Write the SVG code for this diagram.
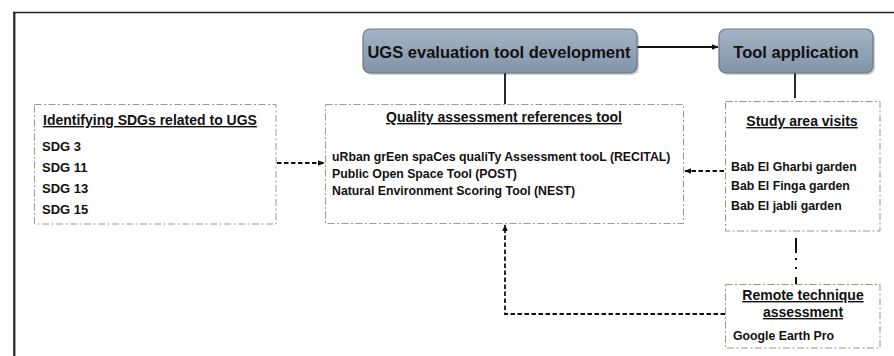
<svg xmlns="http://www.w3.org/2000/svg" width="894" height="356" viewBox="0 0 894 356">
<style>
text{font-family:"Liberation Sans",Arial,sans-serif;font-weight:bold;fill:#111}
.hd{font-size:16.5px;text-anchor:middle}
.tt{font-size:14px;text-decoration:underline}
.c{text-anchor:middle}
.bd{font-size:12.3px}
.sdg{font-size:13px}
.hbox{fill:url(#hg);stroke:#66778a;stroke-width:1.2}
.shadow{fill:#000;opacity:0.18}
.gbox{fill:#fff;stroke:#9a9a9a;stroke-width:1;stroke-dasharray:7 2.5 2 2.5}
.green{fill:#fff;stroke:#86a07e;stroke-width:1;stroke-dasharray:7 2.5 2 2.5}
.solid{fill:none;stroke:#111;stroke-width:1.8}
.dash{fill:none;stroke:#111;stroke-width:1.8;stroke-dasharray:4.5 2.5}
</style>
<defs>
<linearGradient id="hg" x1="0" y1="0" x2="0" y2="1">
<stop offset="0" stop-color="#a6b5c6"/>
<stop offset="0.5" stop-color="#93a4b7"/>
<stop offset="1" stop-color="#8193a7"/>
</linearGradient>
<marker id="ah" viewBox="0 0 10 10" refX="9" refY="5" markerWidth="4" markerHeight="4" orient="auto" markerUnits="strokeWidth">
<path d="M0,1 L10,5 L0,9 z" fill="#111"/>
</marker>
</defs>
<rect width="894" height="356" fill="#fff"/>
<g id="frame">
<line x1="13" y1="12.5" x2="894" y2="12.5" stroke="#222" stroke-width="1.6"/>
<line x1="14.3" y1="12" x2="14.3" y2="356" stroke="#222" stroke-width="2.2"/>
</g>
<g id="connectors">
<line class="solid" x1="637" y1="47" x2="718" y2="47" marker-end="url(#ah)"/>
<line class="solid" x1="505" y1="73" x2="505" y2="104"/>
<line class="solid" x1="795" y1="73" x2="795" y2="98"/>
<line class="dash" x1="277" y1="163" x2="324" y2="163" marker-end="url(#ah)"/>
<line class="dash" x1="724" y1="171" x2="685" y2="171" marker-end="url(#ah)"/>
<polyline class="dash" points="725,314 505,314 505,225" marker-end="url(#ah)"/>
<line x1="796" y1="232" x2="796" y2="284" stroke="#111" stroke-width="2" stroke-dasharray="0 6 15 5 2 7 2 8 10"/>
</g>
<g id="ugs-dev">
<rect class="shadow" x="365" y="31" width="274" height="44" rx="7"/>
<rect class="hbox" x="363" y="29" width="274" height="44" rx="7"/>
<text class="hd" x="499" y="57.5">UGS evaluation tool development</text>
</g>
<g id="tool-application">
<rect class="shadow" x="721" y="31" width="154" height="44" rx="7"/>
<rect class="hbox" x="719" y="29" width="154" height="44" rx="7"/>
<text class="hd" x="796" y="57.5">Tool application</text>
</g>
<g id="sdgs">
<rect class="gbox" x="34.5" y="104.5" width="241.5" height="119.5"/>
<text class="tt" x="43" y="125">Identifying SDGs related to UGS</text>
<text class="sdg" x="42" y="151">SDG 3</text>
<text class="sdg" x="42" y="172">SDG 11</text>
<text class="sdg" x="42" y="193">SDG 13</text>
<text class="sdg" x="42" y="214">SDG 15</text>
</g>
<g id="quality-tool">
<rect class="gbox" x="325.5" y="104.5" width="358" height="119"/>
<text class="tt c" x="504" y="122">Quality assessment references tool</text>
<text class="bd" x="332" y="161">uRban grEen spaCes qualiTy Assessment tooL (RECITAL)</text>
<text class="bd" x="332" y="178">Public Open Space Tool (POST)</text>
<text class="bd" x="332" y="195">Natural Environment Scoring Tool (NEST)</text>
</g>
<g id="study-area">
<rect class="green" x="725.5" y="101.5" width="154.5" height="129.5"/>
<text class="tt c" x="802" y="126">Study area visits</text>
<text class="bd" x="731" y="171">Bab El Gharbi garden</text>
<text class="bd" x="731" y="190">Bab El Finga garden</text>
<text class="bd" x="731" y="210">Bab El jabli garden</text>
</g>
<g id="remote">
<rect class="green" x="725.5" y="284.5" width="154.5" height="63.5"/>
<text class="tt c" x="803" y="300">Remote technique</text>
<text class="tt c" x="803" y="317">assessment</text>
<text class="bd" x="733" y="340">Google Earth Pro</text>
</g>
</svg>
